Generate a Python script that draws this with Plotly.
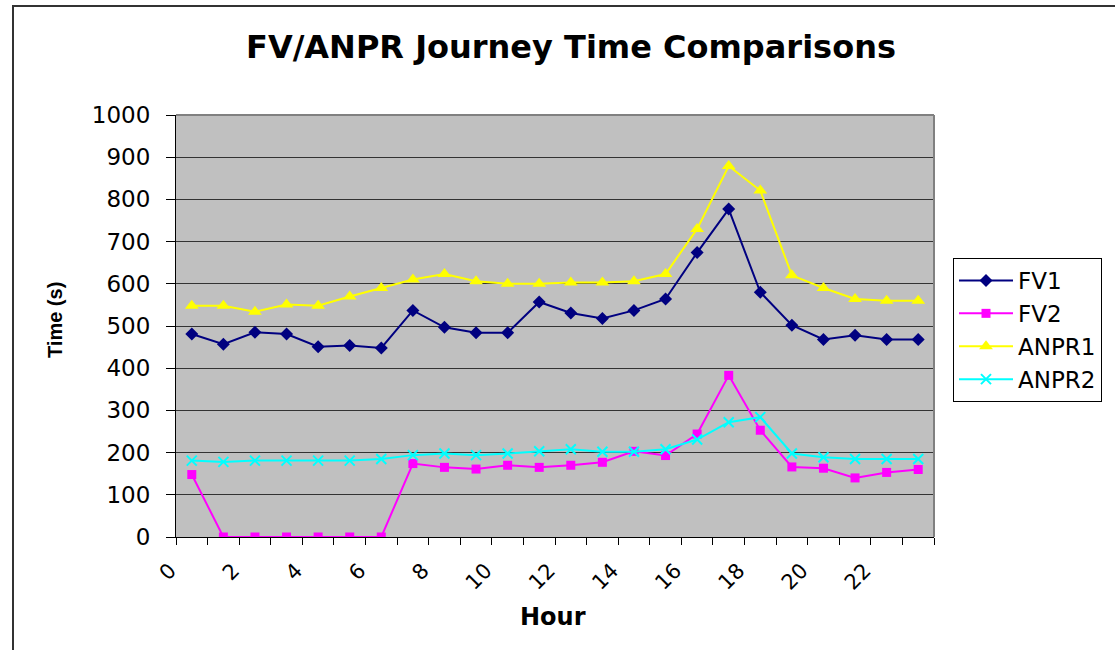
import plotly.graph_objects as go

hours = list(range(24))
fv1 = [481, 457, 485, 481, 451, 454, 448, 537, 497, 484, 484, 557, 531, 518, 537, 564, 674, 777, 580, 502, 468, 478, 468, 468]
fv2 = [148, 0, 0, 0, 0, 0, 0, 174, 165, 161, 170, 165, 170, 177, 203, 193, 244, 383, 253, 166, 163, 140, 153, 160]
anpr1 = [548, 548, 534, 551, 548, 570, 590, 610, 623, 606, 600, 600, 603, 603, 606, 623, 730, 879, 821, 620, 590, 564, 560, 560]
anpr2 = [181, 178, 181, 181, 181, 181, 185, 194, 198, 194, 198, 203, 208, 202, 202, 208, 231, 272, 284, 198, 189, 185, 185, 185]
tick_vals = list(range(25))
tick_text = [str(v) if (v % 2 == 0 and v <= 22) else "" for v in tick_vals]
y_ticks = list(range(0, 1001, 100))

SANS = "DejaVu Sans, sans-serif"
ARIAL = "Liberation Sans, Arial, sans-serif"
xs = [h + 0.5 for h in hours]

series = [
    ("FV1", fv1, "#000080", "diamond", 10),
    ("FV2", fv2, "#FF00FF", "square", 9),
    ("ANPR1", anpr1, "#FFFF00", "triangle-up", 12),
    ("ANPR2", anpr2, "#00FFFF", "x-thin", 10),
]

fig = go.Figure()
for name, vals, col, sym, sz in series:
    mk = dict(color=col, symbol=sym, size=sz)
    if sym == "x-thin":
        mk["line"] = dict(color=col, width=2)
    fig.add_trace(go.Scatter(x=xs, y=vals, name=name, mode="lines+markers",
                             line=dict(color=col, width=2), marker=mk))

fig.update_layout(
    width=1115, height=650,
    margin=dict(l=176, r=181, t=115, b=113, autoexpand=False),
    paper_bgcolor="white", plot_bgcolor="#C0C0C0",
    font=dict(family=SANS, size=20, color="black"),
    title=dict(text="<b>FV/ANPR Journey Time Comparisons</b>", x=571 / 1115, xref="container",
               xanchor="center", y=1 - 47 / 650, yref="container", yanchor="middle",
               font=dict(family=SANS, size=32, color="black")),
    showlegend=True,
    legend=dict(x=(953 - 176) / 758, y=(537 - 258) / 422, xanchor="left", yanchor="top",
                bordercolor="black", borderwidth=1, bgcolor="white",
                font=dict(family=SANS, size=23), itemwidth=54),
    xaxis=dict(range=[0, 24], tickmode="array", tickvals=tick_vals, ticktext=tick_text,
               tickangle=-45, ticks="outside", ticklen=7, tickcolor="black",
               ticklabelshift=-6, ticklabelstandoff=5,
               showgrid=False, zeroline=False, showline=True, linecolor="black", linewidth=1,
               tickfont=dict(family=SANS, size=21)),
    yaxis=dict(range=[0, 1000], tickmode="array", tickvals=y_ticks,
               ticks="outside", ticklen=9, tickcolor="black", ticklabelstandoff=11,
               showgrid=True, gridcolor="#333333", gridwidth=1,
               zeroline=False, showline=True, linecolor="black", linewidth=1,
               tickfont=dict(family=SANS, size=23)),
    annotations=[
        dict(text="<b>Hour</b>", xref="paper", yref="paper", x=(553 - 176) / 758, y=(537 - 617) / 422,
             xanchor="center", yanchor="middle", showarrow=False,
             font=dict(family=SANS, size=24)),
        dict(text="<b>Time (s)</b>", xref="paper", yref="paper", x=(55 - 176) / 758, y=(537 - 320) / 422,
             xanchor="center", yanchor="middle", showarrow=False, textangle=-90,
             font=dict(family=ARIAL, size=20)),
    ],
    shapes=[
        dict(type="line", xref="paper", yref="paper", x0=0, x1=1, y0=1, y1=1,
             line=dict(color="#808080", width=2), layer="above"),
        dict(type="line", xref="paper", yref="paper", x0=1, x1=1, y0=0, y1=1,
             line=dict(color="#808080", width=2), layer="above"),
        dict(type="rect", xref="paper", yref="paper", x0=(13 - 176) / 758, x1=(1125 - 176) / 758,
             y0=(537 - 660) / 422, y1=(537 - 6) / 422,
             line=dict(color="#333333", width=2), fillcolor="rgba(0,0,0,0)", layer="above"),
    ],
)

fig.write_html("out.html", config={"displayModeBar": False},
               post_script="document.body.style.margin='0';")
